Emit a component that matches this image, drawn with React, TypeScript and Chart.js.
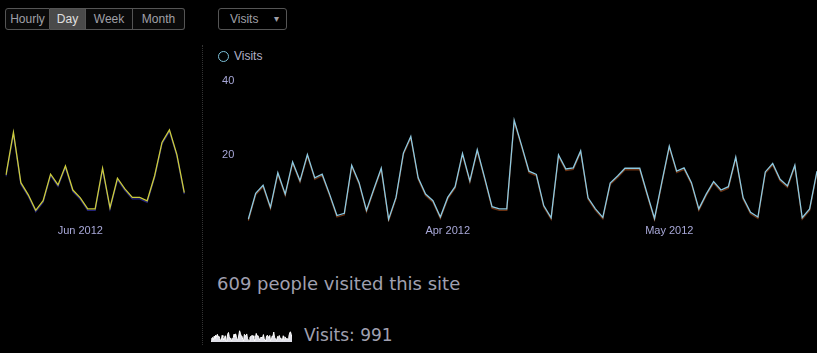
import React, { useEffect, useRef } from "react";
import { Chart, registerables } from "chart.js";

Chart.register(...registerables);

const FONT_AXIS = 'Arial, "Liberation Sans", sans-serif';
const FONT_BIG = 'Verdana, "DejaVu Sans", sans-serif';

// ---- data ----
const mainStart = "2012-03-05";
const juneStart = "2012-05-22";

const mainVisits = [
  2.7, 9.7, 11.9, 5.9, 15.3, 9.5, 18.2, 13.1, 20.2, 13.9,
  14.9, 9.5, 3.7, 4.3, 17.3, 12.6, 5.1, 10.9, 16.5, 2.7,
  8.6, 20.6, 25.1, 13.9, 9.5, 7.7, 3.3, 8.6, 11.5, 20.5,
  13.1, 21.5, 13.9, 6.1, 5.5, 5.5, 29.5, 22.7, 15.7, 14.8,
  6.4, 3.1, 20.1, 16.3, 16.6, 21.2, 8.5, 5.5, 3.2, 12.5,
  14.4, 16.5, 16.5, 16.5, 9.6, 2.9, 12.8, 22.5, 15.7, 16.6,
  12.6, 5.5, 9.5, 12.9, 10.6, 11.5, 19.5, 8.5, 4.6, 3.3,
  15.5, 17.8, 13.5, 11.7, 17.3, 3.1, 5.5, 15.7,
];

const juneVisits = [
  14.7, 26.2, 12.6, 9.3, 5.1, 7.7, 14.9, 12, 17.1, 10.6,
  8.5, 5.5, 5.5, 16.5, 5.8, 13.8, 10.9, 8.6, 8.6, 7.7,
  14.4, 23.5, 26.9, 20.2, 9.9,
];

const mainTickDates = ["2012-04-01", "2012-05-01"];
const mainTickLabels = ["Apr 2012", "May 2012"];
const juneTickDates = ["2012-06-01"];
const juneTickLabels = ["Jun 2012"];
const yTicks = [20, 40];
const yMin = 2;
const yMax = 45;

const rangeButtons = ["Hourly", "Day", "Week", "Month"];
const rangeWidths = [45, 36, 47, 52];
const selectedRange = "Day";
const metricName = "Visits";
const headline = "609 people visited this site";
const totalVisits = 991;

function dayLabels(start: string, n: number): string[] {
  const [y, m, d] = start.split("-").map(Number);
  const out: string[] = [];
  for (let i = 0; i < n; i++) {
    const dt = new Date(Date.UTC(y, m - 1, d + i));
    out.push(dt.toISOString().slice(0, 10));
  }
  return out;
}

const mainDays = dayLabels(mainStart, mainVisits.length);
const juneDays = dayLabels(juneStart, juneVisits.length);
const sparkDays = [...mainDays, ...juneDays];
const sparkVisits = [...mainVisits, ...juneVisits];

function shadowPlugin(color: string) {
  return {
    id: "lineShadow",
    beforeDatasetsDraw(chart: any) {
      const ctx = chart.ctx;
      ctx.save();
      ctx.shadowColor = color;
      ctx.shadowOffsetX = 0;
      ctx.shadowOffsetY = 1.5;
      ctx.shadowBlur = 0;
    },
    afterDatasetsDraw(chart: any) {
      chart.ctx.restore();
    },
  };
}

type LineProps = {
  labels: string[];
  values: number[];
  tickDates: string[];
  tickLabels: string[];
  color: string;
  shadow: string;
  showY: boolean;
  yWidth: number;
  padLeft: number;
  padRight: number;
  box: React.CSSProperties;
};

function LineChart(p: LineProps) {
  const ref = useRef<HTMLCanvasElement>(null);
  useEffect(() => {
    const chart = new Chart(ref.current as HTMLCanvasElement, {
      type: "line",
      data: {
        labels: p.labels,
        datasets: [
          {
            label: metricName,
            data: p.values,
            borderColor: p.color,
            borderWidth: 1.3,
            pointRadius: 0,
            tension: 0,
            fill: false,
          },
        ],
      },
      options: {
        animation: false,
        responsive: true,
        maintainAspectRatio: false,
        layout: { padding: { left: p.padLeft, right: p.padRight, top: 0, bottom: 0 } },
        plugins: { legend: { display: false }, tooltip: { enabled: false } },
        scales: {
          x: {
            grid: { display: false, drawTicks: false },
            border: { display: false },
            ticks: {
              autoSkip: false,
              maxRotation: 0,
              padding: 3,
              color: "#a8a8d8",
              font: { family: FONT_AXIS, size: 11 },
              callback: (_v: any, i: number) => {
                const k = p.tickDates.indexOf(p.labels[i]);
                return k >= 0 ? p.tickLabels[k] : null;
              },
            },
            afterFit: (s: any) => {
              s.paddingLeft = 0;
              s.paddingRight = 0;
            },
          },
          y: {
            display: p.showY,
            min: yMin,
            max: yMax,
            grid: { display: false, drawTicks: false },
            border: { display: false },
            ticks: {
              padding: 14,
              color: "#a8a8d8",
              font: { family: FONT_AXIS, size: 11 },
            },
            afterBuildTicks: (s: any) => {
              s.ticks = yTicks.map((v) => ({ value: v }));
            },
            afterFit: (s: any) => {
              s.width = p.yWidth;
              s.paddingTop = 0;
              s.paddingBottom = 0;
            },
          },
        },
      },
      plugins: [shadowPlugin(p.shadow)],
    });
    return () => chart.destroy();
  }, []);
  return (
    <div style={{ position: "absolute", ...p.box }}>
      <canvas ref={ref} />
    </div>
  );
}

function Sparkline() {
  const ref = useRef<HTMLCanvasElement>(null);
  useEffect(() => {
    const chart = new Chart(ref.current as HTMLCanvasElement, {
      type: "line",
      data: {
        labels: sparkDays,
        datasets: [
          {
            data: sparkVisits,
            borderColor: "#ffffff",
            backgroundColor: "#e0e0e8",
            borderWidth: 1,
            pointRadius: 0,
            fill: "origin",
          },
        ],
      },
      options: {
        animation: false,
        responsive: true,
        maintainAspectRatio: false,
        layout: { padding: 0 },
        plugins: { legend: { display: false }, tooltip: { enabled: false } },
        scales: {
          x: { display: false },
          y: { display: false, min: 0 },
        },
      },
    });
    return () => chart.destroy();
  }, []);
  return (
    <div style={{ position: "absolute", left: 211, top: 323, width: 81, height: 19 }}>
      <canvas ref={ref} />
    </div>
  );
}

export default function App() {
  return (
    <div
      style={{
        position: "fixed",
        left: 0,
        top: 0,
        width: 817,
        height: 353,
        background: "#000",
        overflow: "hidden",
        fontFamily: FONT_AXIS,
      }}
    >
      {/* range buttons */}
      <div style={{ position: "absolute", left: 5, top: 8, display: "flex", height: 22 }}>
        {rangeButtons.map((b, i) => (
          <div
            key={b}
            style={{
              width: rangeWidths[i],
              boxSizing: "border-box",
              height: 22,
              lineHeight: "20px",
              textAlign: "center",
              fontSize: 12,
              color: b === selectedRange ? "#e0e0e0" : "#a0a0a8",
              background: b === selectedRange ? "#4a4a4a" : "#0a0a0a",
              border: "1px solid #555",
              borderLeft: i === 0 ? "1px solid #555" : "none",
              borderRadius: i === 0 ? "3px 0 0 3px" : i === rangeButtons.length - 1 ? "0 3px 3px 0" : 0,
            }}
          >
            {b}
          </div>
        ))}
      </div>

      {/* metric dropdown */}
      <div
        style={{
          position: "absolute",
          left: 218,
          top: 8,
          width: 69,
          height: 22,
          boxSizing: "border-box",
          border: "1px solid #555",
          borderRadius: 3,
          fontSize: 12,
          lineHeight: "20px",
          color: "#a0a0a8",
          paddingLeft: 11,
        }}
      >
        {metricName}
        <span style={{ position: "absolute", right: 7, top: 0, fontSize: 10 }}>▾</span>
      </div>

      {/* separator */}
      <div
        style={{
          position: "absolute",
          left: 202,
          top: 45,
          height: 300,
          borderLeft: "1px dotted #333",
        }}
      />

      {/* legend */}
      <div
        style={{
          position: "absolute",
          left: 218,
          top: 49,
          display: "flex",
          alignItems: "center",
          height: 14,
          fontSize: 12,
          color: "#b0b0c8",
        }}
      >
        <span
          style={{
            display: "inline-block",
            width: 9,
            height: 9,
            borderRadius: "50%",
            border: "1.5px solid #7cc0d8",
            marginRight: 5,
          }}
        />
        {metricName}
      </div>

      <LineChart
        labels={juneDays}
        values={juneVisits}
        tickDates={juneTickDates}
        tickLabels={juneTickLabels}
        color="#cccc3a"
        shadow="#22227a"
        showY={false}
        yWidth={0}
        padLeft={6}
        padRight={5.7}
        box={{ left: 0, top: 63, width: 190, height: 178 }}
      />

      <LineChart
        labels={mainDays}
        values={mainVisits}
        tickDates={mainTickDates}
        tickLabels={mainTickLabels}
        color="#8cc8e0"
        shadow="#6a3010"
        showY={true}
        yWidth={43.3}
        padLeft={0}
        padRight={0}
        box={{ left: 205, top: 63, width: 612, height: 178 }}
      />

      <div
        style={{
          position: "absolute",
          left: 217,
          top: 272,
          fontFamily: FONT_BIG,
          fontSize: 18,
          lineHeight: "24px",
          color: "#a0a0b0",
          whiteSpace: "nowrap",
        }}
      >
        {headline}
      </div>

      <Sparkline />

      <div
        style={{
          position: "absolute",
          left: 304,
          top: 324,
          fontFamily: FONT_BIG,
          fontSize: 17,
          lineHeight: "22px",
          color: "#a0a0b0",
          whiteSpace: "nowrap",
        }}
      >
        {metricName}: {totalVisits}
      </div>
    </div>
  );
}
